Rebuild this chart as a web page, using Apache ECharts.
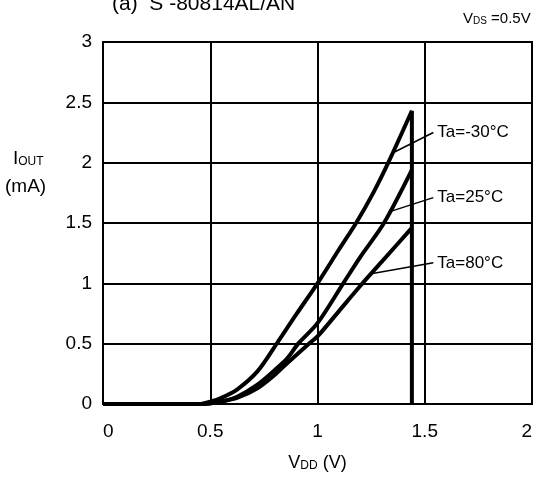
<!DOCTYPE html>
<html>
<head>
<meta charset="utf-8">
<script src="https://cdn.jsdelivr.net/npm/echarts@6/dist/echarts.min.js"></script>
<style>html,body{margin:0;padding:0;background:#fff;}#c{width:535px;height:477px;}</style>
</head>
<body>
<div id="c"></div>
<script>
// V_DD (V) and I_OUT (mA)
const vM30 = [0, 0.45, 0.5, 0.55, 0.625, 0.72, 0.81, 0.9, 1.0, 1.1, 1.18, 1.26, 1.33, 1.44];
const iM30 = [0, 0, 0.02, 0.05, 0.12, 0.27, 0.5, 0.74, 1.0, 1.28, 1.5, 1.75, 2.0, 2.43];
const v25 = [0, 0.47, 0.55, 0.625, 0.72, 0.8, 0.86, 0.91, 1.0, 1.12, 1.2, 1.31, 1.44];
const i25 = [0, 0, 0.02, 0.06, 0.16, 0.28, 0.38, 0.5, 0.67, 1.0, 1.22, 1.5, 1.94];
const v80 = [0, 0.47, 0.55, 0.625, 0.72, 0.8, 0.86, 0.96, 1.0, 1.1, 1.2, 1.3, 1.44];
const i80 = [0, 0, 0.02, 0.05, 0.13, 0.24, 0.34, 0.5, 0.56, 0.77, 0.98, 1.18, 1.46];
const dropV = [1.44, 1.44];
const dropI = [0, 2.43];
const seriesNames = ['Ta=-30°C', 'Ta=25°C', 'Ta=80°C'];
// leader lines: [start on curve, end at label]
const leadM30V = [1.35, 1.54], leadM30I = [2.08, 2.25];
const lead25V = [1.33, 1.54], lead25I = [1.59, 1.71];
const lead80V = [1.25, 1.54], lead80I = [1.08, 1.17];
const xTicks = [0, 0.5, 1, 1.5, 2];
const yTicks = [0, 0.5, 1, 1.5, 2, 2.5, 3];

const zip = (a, b) => a.map((x, i) => [x, b[i]]);
const FONT = '"Liberation Sans", Arial, sans-serif';

const curve = (name, v, i) => ({
  name, type: 'line', data: zip(v, i), smooth: 0.3, showSymbol: false,
  lineStyle: { color: '#000', width: 4 }, z: 5, silent: true
});
const leader = (name, v, i) => ({
  name: name, type: 'line', showSymbol: false, silent: true, z: 4,
  lineStyle: { color: '#000', width: 1.5 },
  data: zip(v, i),
  endLabel: { show: true, formatter: name, color: '#000', fontSize: 17, fontFamily: FONT, distance: 4 }
});

const chart = echarts.init(document.getElementById('c'));
chart.setOption({
  animation: false,
  backgroundColor: '#fff',
  grid: { left: 103, right: 2, top: 42, bottom: 73, show: true, borderColor: '#000', borderWidth: 2 },
  xAxis: {
    type: 'value', min: 0, max: 2, interval: 0.5,
    name: '{m|V}{s|DD}{m| (V)}', nameLocation: 'middle', nameGap: 50,
    nameTextStyle: { rich: {
      m: { fontSize: 18, fontFamily: FONT, color: '#000' },
      s: { fontSize: 12, fontFamily: FONT, color: '#000', padding: [6, 0, 0, 0] } } },
    axisLine: { show: true, lineStyle: { color: '#000', width: 2 } },
    axisTick: { show: false },
    axisLabel: { color: '#000', fontSize: 19, fontFamily: FONT, margin: 18,
      alignMinLabel: 'left', alignMaxLabel: 'right',
      formatter: v => String(xTicks.find(t => Math.abs(t - v) < 1e-9)) },
    splitLine: { show: true, lineStyle: { color: '#000', width: 2 } }
  },
  yAxis: {
    type: 'value', min: 0, max: 3, interval: 0.5,
    axisLine: { show: true, lineStyle: { color: '#000', width: 2 } },
    axisTick: { show: false },
    axisLabel: { color: '#000', fontSize: 19, fontFamily: FONT, margin: 11,
      formatter: v => String(yTicks.find(t => Math.abs(t - v) < 1e-9)) },
    splitLine: { show: true, lineStyle: { color: '#000', width: 2 } }
  },
  graphic: [
    { type: 'text', x: 112, y: -6, style: { text: '(a)  S -80814AL/AN', fontSize: 21, fontFamily: FONT, fill: '#000' } },
    { type: 'text', x: 463, y: 11, style: {
        text: '{m|V}{s|DS}{m| =0.5V}', fill: '#000',
        rich: { m: { fontSize: 15, fontFamily: FONT, fill: '#000' },
                s: { fontSize: 10, fontFamily: FONT, fill: '#000', padding: [5, 0, 0, 0] } } } },
    { type: 'text', x: 13, y: 149, style: {
        text: '{m|I}{s|OUT}', fill: '#000',
        rich: { m: { fontSize: 19, fontFamily: FONT, fill: '#000' },
                s: { fontSize: 12, fontFamily: FONT, fill: '#000', padding: [6, 0, 0, 0] } } } },
    { type: 'text', x: 5, y: 177, style: { text: '(mA)', fontSize: 19, fontFamily: FONT, fill: '#000' } }
  ],
  series: [
    curve(seriesNames[0], vM30, iM30),
    curve(seriesNames[1], v25, i25),
    curve(seriesNames[2], v80, i80),
    { name: 'end', type: 'line', data: zip(dropV, dropI), showSymbol: false, silent: true,
      lineStyle: { color: '#000', width: 4 }, z: 5 },
    leader(seriesNames[0], leadM30V, leadM30I),
    leader(seriesNames[1], lead25V, lead25I),
    leader(seriesNames[2], lead80V, lead80I)
  ]
});
</script>
</body>
</html>
